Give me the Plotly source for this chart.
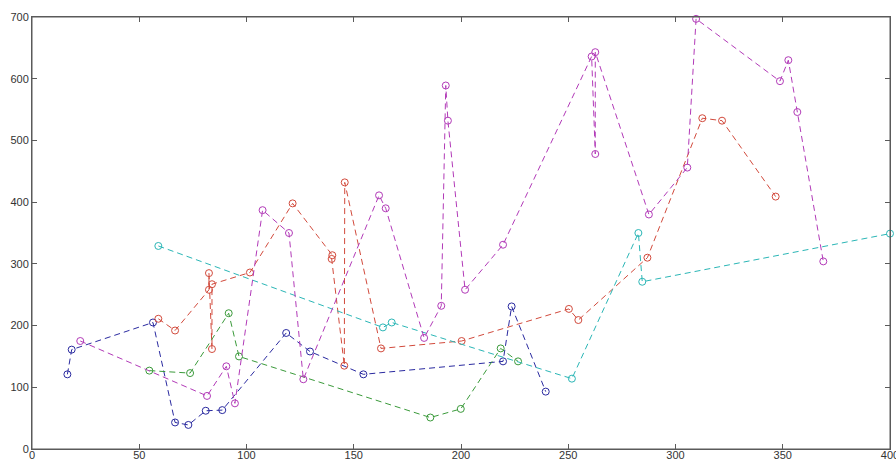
import plotly.graph_objects as go

blue_x = [16.5, 18.5, 56.4, 66.7, 72.9, 81.0, 88.7, 118.5, 129.6, 154.5, 219.6, 223.6, 239.5]
blue_y = [121, 161, 205, 43, 39, 62, 63, 188, 158, 121, 142, 231, 93]

red_x = [58.9, 66.7, 82.5, 82.5, 83.9, 83.9, 101.6, 121.5, 140.0, 139.7, 145.6, 145.8, 162.7, 200.3, 250.3, 254.7, 286.9, 312.5, 321.7, 346.7]
red_y = [211, 192, 258, 285, 162, 267, 286, 398, 314, 308, 135, 432, 163, 175, 227, 209, 310, 536, 532, 409]

green_x = [54.7, 73.7, 91.7, 96.5, 185.7, 199.9, 218.5, 226.6]
green_y = [127, 123, 220, 150, 51, 65, 163, 142]

cyan_x = [58.9, 163.6, 167.7, 251.7, 282.7, 284.5, 400.0]
cyan_y = [329, 197, 205, 114, 350, 271, 349]

magenta_x = [22.5, 81.6, 90.6, 94.6, 107.5, 119.8, 126.5, 161.8, 164.9, 182.8, 190.8, 192.9, 193.9, 201.9,
             219.6, 260.9, 262.6, 262.6, 287.6, 305.5, 309.6, 348.7, 352.6, 356.8, 368.9]
magenta_y = [175, 86, 134, 74, 387, 350, 113, 411, 390, 180, 232, 589, 532, 258,
             331, 636, 478, 643, 380, 456, 697, 596, 630, 546, 304]

x_ticks = [0, 50, 100, 150, 200, 250, 300, 350, 400]
y_ticks = [0, 100, 200, 300, 400, 500, 600, 700]

series = [
    (blue_x, blue_y, "#2a2aa0"),
    (red_x, red_y, "#d24a3c"),
    (green_x, green_y, "#3a9a3a"),
    (cyan_x, cyan_y, "#2ab6b6"),
    (magenta_x, magenta_y, "#b23ab8"),
]

fig = go.Figure()
for xs, ys, col in series:
    fig.add_trace(go.Scatter(
        x=xs, y=ys, mode="lines+markers",
        line=dict(color=col, width=1, dash="6px,4px"),
        marker=dict(symbol="circle-open", size=7, color=col, line=dict(width=1, color=col)),
        showlegend=False, cliponaxis=False,
    ))

tfont = dict(family="Arial, Liberation Sans, sans-serif", size=11, color="#333333")
axis_common = dict(
    showgrid=False, zeroline=False, showline=True, mirror="allticks",
    linecolor="#5a5a5a", linewidth=1, ticks="inside", ticklen=5,
    tickcolor="#5a5a5a", tickfont=tfont, ticklabeloverflow="allow",
)

fig.update_layout(
    width=896, height=466,
    margin=dict(l=32, r=6, t=17, b=17, autoexpand=False),
    paper_bgcolor="white", plot_bgcolor="white",
    xaxis=dict(range=[0, 400.001], tickvals=x_ticks, ticktext=[str(v) for v in x_ticks],
               ticklabelstandoff=-4, automargin=False, **axis_common),
    yaxis=dict(range=[0, 700.001], tickvals=y_ticks, ticktext=[str(v) for v in y_ticks],
               automargin=False, **axis_common),
    shapes=[dict(type="rect", xref="paper", yref="paper", x0=0, y0=0, x1=1, y1=1,
                 line=dict(color="#5a5a5a", width=1), layer="above")],
)

fig.write_html("out.html", config={"displayModeBar": False},
               post_script="document.body.style.margin='0';document.body.style.overflow='hidden';")
